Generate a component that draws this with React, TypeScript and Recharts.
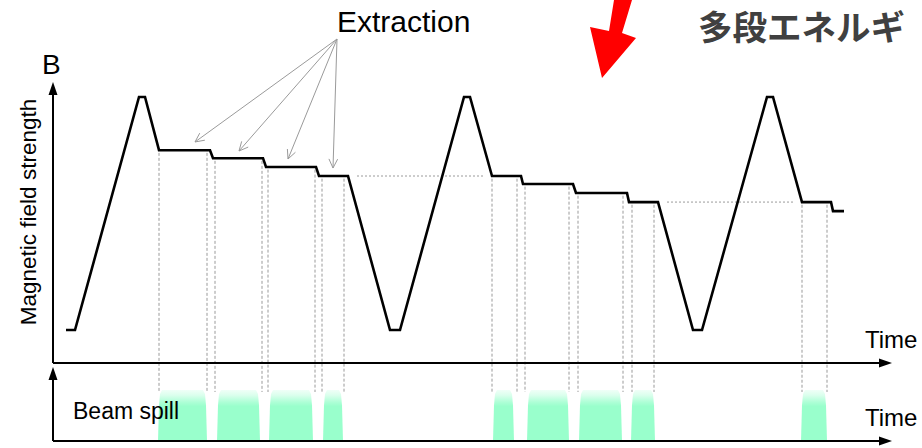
import { ComposedChart, Line, Area, XAxis, YAxis, ReferenceLine } from 'recharts';

// time (ms, arbitrary) vs relative field strength B (peak = 1)
const fieldT = [13, 22, 86, 92, 106, 157, 160, 210, 213, 263, 266, 295, 337, 347, 411, 417, 439, 468, 470, 520, 523, 574, 576, 605, 640, 649, 714, 720, 749, 778, 780, 791];
const fieldB = [0.124, 0.124, 1, 1, 0.8, 0.8, 0.77, 0.77, 0.737, 0.737, 0.703, 0.703, 0.124, 0.124, 1, 1, 0.703, 0.703, 0.673, 0.673, 0.639, 0.639, 0.605, 0.605, 0.124, 0.124, 1, 1, 0.605, 0.605, 0.571, 0.571];

// extraction boundaries: time + B level of the flat top
const markT = [106, 154, 162, 209, 215, 262, 269, 291, 439, 464, 472, 516, 525, 570, 579, 601, 749, 774];
const markB = [0.8, 0.8, 0.77, 0.77, 0.737, 0.737, 0.703, 0.703, 0.703, 0.703, 0.673, 0.673, 0.639, 0.639, 0.605, 0.605, 0.605, 0.605];

// carried-over energy levels (dotted)
const levelFrom = [304, 614];
const levelTo = [430, 740];
const levelB = [0.703, 0.605];

// "Extraction" pointers
const pointerFrom = { t: 284, b: 1.218 };
const pointerT = [142, 186, 235, 280];
const pointerB = [0.831, 0.797, 0.767, 0.733];

// beam spill blocks, intensity 0..1
const spillShape = [0, 0.7, 0.92, 1, 1, 0.92, 0.7, 0];
const spillT = [
  [105, 106, 107, 109, 150, 152, 153, 154],
  [164, 165, 166, 168, 203, 205, 206, 207],
  [216, 217, 218, 220, 256, 258, 259, 260],
  [270, 271, 272, 274, 286, 288, 289, 290],
  [440, 441, 442, 444, 457, 459, 460, 461],
  [474, 475, 476, 478, 512, 514, 515, 516],
  [526, 527, 528, 530, 565, 567, 568, 569],
  [578, 579, 580, 582, 598, 600, 601, 602],
  [748, 749, 750, 752, 770, 772, 773, 774],
];

const fieldData = fieldT.map((t, i) => ({ t, b: fieldB[i] }));
const spills = spillT.map((ts) => ts.map((t, i) => ({ t, s: spillShape[i] })));

const W = 922;
const H = 448;
const FONT = '"Liberation Sans", Arial, sans-serif';
const SPILL_FOOT = -0.109;

const AxisArrow = (props: any) => {
  const { x1, y1, x2, y2 } = props;
  const a = Math.atan2(y2 - y1, x2 - x1);
  const len = 13;
  const half = 4.5;
  const bx = x2 - len * Math.cos(a);
  const by = y2 - len * Math.sin(a);
  const px = -Math.sin(a) * half;
  const py = Math.cos(a) * half;
  return (
    <g>
      <line x1={x1} y1={y1} x2={bx} y2={by} stroke="#000" strokeWidth={2} />
      <polygon points={`${x2},${y2} ${bx + px},${by + py} ${bx - px},${by - py}`} fill="#000" />
    </g>
  );
};

const Pointer = (props: any) => {
  const { x1, y1, x2, y2 } = props;
  const a = Math.atan2(y2 - y1, x2 - x1);
  const len = 10;
  const spread = 0.45;
  const h1x = x2 - len * Math.cos(a - spread);
  const h1y = y2 - len * Math.sin(a - spread);
  const h2x = x2 - len * Math.cos(a + spread);
  const h2y = y2 - len * Math.sin(a + spread);
  return (
    <g stroke="#9a9a9a" strokeWidth={1} fill="none">
      <line x1={x1} y1={y1} x2={x2} y2={y2} />
      <polyline points={`${h1x},${h1y} ${x2},${y2} ${h2x},${h2y}`} />
    </g>
  );
};

export default function App() {
  return (
    <div style={{ position: 'absolute', left: 0, top: 0, width: W, height: H, background: '#fff' }}>
      <ComposedChart width={W} height={H} margin={{ top: 82, right: 30, bottom: 7, left: 53 }}>
        <defs>
          <linearGradient id="spillGrad" x1="0" y1="0" x2="0" y2="1">
            <stop offset="0" stopColor="#99ffcc" stopOpacity={0.15} />
            <stop offset="0.1" stopColor="#99ffcc" stopOpacity={0.35} />
            <stop offset="0.24" stopColor="#99ffcc" stopOpacity={0.8} />
            <stop offset="0.32" stopColor="#99ffcc" stopOpacity={1} />
            <stop offset="1" stopColor="#99ffcc" stopOpacity={1} />
          </linearGradient>
        </defs>
        <XAxis type="number" dataKey="t" domain={[0, 839]} hide allowDataOverflow />
        <YAxis yAxisId="b" type="number" domain={[-0.2932, 1.0564]} hide allowDataOverflow />
        <YAxis yAxisId="s" type="number" domain={[0, 7.04]} hide allowDataOverflow />

        {spills.map((d, i) => (
          <Area
            key={`sp${i}`}
            yAxisId="s"
            data={d}
            dataKey="s"
            type="linear"
            stroke="none"
            fill="url(#spillGrad)"
            fillOpacity={1}
            isAnimationActive={false}
          />
        ))}

        {markT.map((t, i) => (
          <ReferenceLine
            key={`m${i}`}
            yAxisId="b"
            ifOverflow="visible"
            segment={[{ x: t, y: markB[i] - 0.01 }, { x: t, y: SPILL_FOOT }]}
            stroke="#9a9a9a"
            strokeWidth={1}
            strokeDasharray="3 2"
          />
        ))}

        {levelB.map((b, i) => (
          <ReferenceLine
            key={`l${i}`}
            yAxisId="b"
            ifOverflow="visible"
            segment={[{ x: levelFrom[i], y: b }, { x: levelTo[i], y: b }]}
            stroke="#9a9a9a"
            strokeWidth={1}
            strokeDasharray="2 2"
          />
        ))}

        {pointerT.map((t, i) => (
          <ReferenceLine
            key={`p${i}`}
            yAxisId="b"
            ifOverflow="visible"
            segment={[{ x: pointerFrom.t, y: pointerFrom.b }, { x: t, y: pointerB[i] }]}
            shape={Pointer}
          />
        ))}

        {/* axes with arrow heads */}
        <ReferenceLine yAxisId="b" ifOverflow="visible" segment={[{ x: 0, y: 0 }, { x: 0, y: 1.0564 }]} shape={AxisArrow} />
        <ReferenceLine yAxisId="b" ifOverflow="visible" segment={[{ x: 0, y: 0 }, { x: 839, y: 0 }]} shape={AxisArrow} />
        <ReferenceLine yAxisId="s" ifOverflow="visible" segment={[{ x: 0, y: 0 }, { x: 0, y: 1.45 }]} shape={AxisArrow} />
        <ReferenceLine yAxisId="s" ifOverflow="visible" segment={[{ x: 0, y: 0 }, { x: 839, y: 0 }]} shape={AxisArrow} />

        <Line
          yAxisId="b"
          data={fieldData}
          dataKey="b"
          type="linear"
          stroke="#000"
          strokeWidth={2.6}
          dot={false}
          activeDot={false}
          strokeLinejoin="miter"
          isAnimationActive={false}
        />
      </ComposedChart>

      <svg width={W} height={H} style={{ position: 'absolute', left: 0, top: 0, pointerEvents: 'none' }}>
        <polygon points="614,0 632,0 622,33 636,38 602,78 590,27 609,31" fill="#ff0000" />
        <text x={698} y={40} fontFamily='"Noto Sans CJK JP", sans-serif' fontWeight={700} fontSize={34.5} fill="#404040">
          多段エネルギ
        </text>
        <text x={337} y={32} fontFamily={FONT} fontSize={30} fill="#000">
          Extraction
        </text>
        <text x={42} y={74} fontFamily={FONT} fontSize={28} fill="#000">
          B
        </text>
        <text
          x={0}
          y={0}
          transform="translate(36,212) rotate(-90)"
          textAnchor="middle"
          fontFamily={FONT}
          fontSize={22.5}
          fill="#000"
        >
          Magnetic field strength
        </text>
        <text x={865} y={348} fontFamily={FONT} fontSize={24} fill="#000">
          Time
        </text>
        <text x={865} y={426} fontFamily={FONT} fontSize={24} fill="#000">
          Time
        </text>
        <text x={73} y={419} fontFamily={FONT} fontSize={23} fill="#000">
          Beam spill
        </text>
      </svg>
    </div>
  );
}
